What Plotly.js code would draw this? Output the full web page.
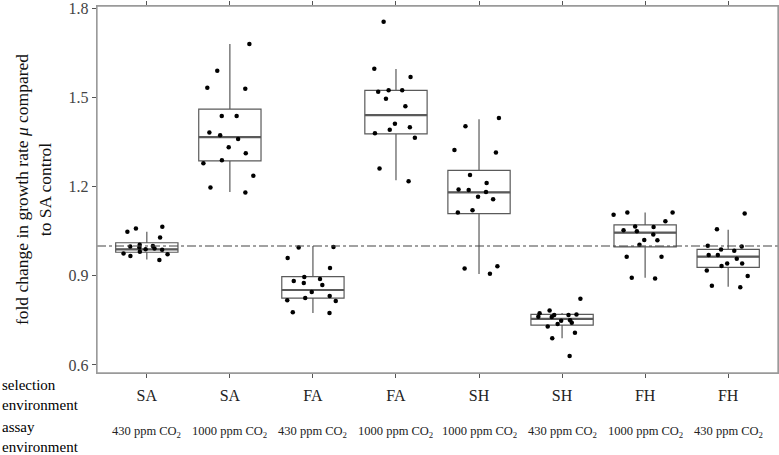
<!DOCTYPE html>
<html>
<head>
<meta charset="utf-8">
<script src="https://cdn.plot.ly/plotly-3.0.1.min.js"></script>
<style>html,body{margin:0;padding:0;background:#fff;}#chart{width:779px;height:455px;}</style>
</head>
<body>
<div id="chart"></div>
<script>
// ---- data ----
const selection = ['SA','SA','FA','FA','SH','SH','FH','FH'];
const assay = ['430','1000','430','1000','1000','430','1000','430'];

// precomputed box statistics
const q1     = [0.979, 1.286, 0.825, 1.377, 1.109, 0.734, 0.997, 0.928];
const median = [0.989, 1.366, 0.852, 1.440, 1.180, 0.755, 1.045, 0.964];
const q3     = [1.011, 1.460, 0.897, 1.523, 1.254, 0.770, 1.071, 0.989];
const lowerWhisker = [0.955, 1.182, 0.775, 1.221, 0.906, 0.690, 0.893, 0.863];
const upperWhisker = [1.048, 1.679, 1.000, 1.595, 1.426, 0.775, 1.113, 1.055];

// individual replicate points per group
const pts_SA_430 = [1.059, 1.048, 1.029, 1.065, 0.981, 0.975, 0.966, 0.953, 0.972, 1.004, 0.989, 0.992, 0.995, 0.987, 1.000, 0.998];
const pts_SA_1000 = [1.679, 1.589, 1.532, 1.529, 1.437, 1.437, 1.382, 1.372, 1.360, 1.332, 1.312, 1.288, 1.278, 1.236, 1.197, 1.180];
const pts_FA_430 = [0.896, 0.882, 0.869, 0.845, 0.815, 0.825, 0.832, 0.818, 0.889, 0.926, 0.997, 0.995, 0.960, 0.876, 0.775, 0.777];
const pts_FA_1000 = [1.754, 1.596, 1.568, 1.524, 1.524, 1.519, 1.495, 1.470, 1.411, 1.399, 1.391, 1.379, 1.364, 1.261, 1.218];
const pts_SH_1000 = [1.430, 1.403, 1.323, 1.314, 1.239, 1.212, 1.190, 1.188, 1.182, 1.157, 1.166, 1.113, 0.924, 0.907, 0.932, 1.120];
const pts_SH_430 = [0.823, 0.783, 0.774, 0.770, 0.762, 0.750, 0.761, 0.742, 0.738, 0.749, 0.768, 0.768, 0.729, 0.708, 0.690, 0.630];
const pts_FH_1000 = [1.113, 1.113, 1.105, 1.083, 1.064, 1.066, 1.050, 1.053, 1.039, 1.019, 1.020, 1.004, 0.964, 0.964, 0.891, 0.893];
const pts_FH_430 = [1.109, 1.056, 1.001, 0.998, 0.988, 0.984, 0.970, 0.970, 0.957, 0.941, 0.941, 0.933, 0.918, 0.899, 0.866, 0.861];
const points = [pts_SA_430, pts_SA_1000, pts_FA_430, pts_FA_1000, pts_SH_1000, pts_SH_430, pts_FH_1000, pts_FH_430];

const controlLevel = 1.0;
const yTicks = [0.6, 0.9, 1.2, 1.5, 1.8];

// ---- build chart ----
const cats = selection.map((s, i) => s + ' ' + assay[i]);
const serif = '"Liberation Serif", "Times New Roman", serif';
const boxCol = '#5a5a5a';
const traces = [];

// boxes with quartiles and whiskers
traces.push({
  type: 'box', x: cats, q1: q1, median: median, q3: q3,
  lowerfence: lowerWhisker, upperfence: upperWhisker,
  boxpoints: false, width: 0.75, whiskerwidth: 0,
  fillcolor: '#ffffff', line: {color: boxCol, width: 1.2},
  hoverinfo: 'skip', showlegend: false
});
// thicker median bar
traces.push({
  type: 'box', x: cats, q1: median, median: median, q3: median,
  lowerfence: median, upperfence: median,
  boxpoints: false, width: 0.75, whiskerwidth: 0,
  fillcolor: 'rgba(0,0,0,0)', line: {color: boxCol, width: 2.2},
  hoverinfo: 'skip', showlegend: false
});
// jittered points
points.forEach((vals, i) => {
  traces.push({
    type: 'box', x: vals.map(() => cats[i]), y: vals,
    boxpoints: 'all', jitter: 1, pointpos: 0, width: 0.78,
    marker: {color: '#000000', size: 4.5},
    line: {width: 0, color: 'rgba(0,0,0,0)'}, fillcolor: 'rgba(0,0,0,0)',
    hoveron: 'points', showlegend: false
  });
});

const plotL = 97, plotR = 778, plotW = plotR - plotL;
const annotations = cats.map((c, i) => ({
  x: c, xref: 'x', y: -0.16, yref: 'paper', yanchor: 'middle', showarrow: false,
  text: assay[i] + ' ppm CO<sub>2</sub>', font: {family: serif, size: 12.5, color: '#222'}
}));
annotations.push({
  x: -plotL / plotW, xref: 'paper', xanchor: 'left', y: -0.06, yref: 'paper', yanchor: 'middle',
  showarrow: false, align: 'left', text: 'selection<br>environment',
  font: {family: serif, size: 15, color: '#000'}
});
annotations.push({
  x: -plotL / plotW, xref: 'paper', xanchor: 'left', y: -0.174, yref: 'paper', yanchor: 'middle',
  showarrow: false, align: 'left', text: 'assay<br>environment',
  font: {family: serif, size: 15, color: '#000'}
});

const layout = {
  width: 779, height: 455,
  margin: {l: plotL, r: 779 - plotR, t: 6, b: 82},
  paper_bgcolor: '#fff', plot_bgcolor: '#fff',
  boxmode: 'overlay', showlegend: false,
  font: {family: serif},
  xaxis: {
    type: 'category', categoryorder: 'array', categoryarray: cats,
    tickvals: cats, ticktext: selection, range: [-0.6, 7.6],
    showgrid: false, zeroline: false,
    showline: true, mirror: 'all', linecolor: '#9a9a9a', linewidth: 1.3,
    ticks: 'outside', ticklen: 4, tickcolor: '#555', tickwidth: 1,
    ticklabelstandoff: 3,
    tickfont: {family: serif, size: 16, color: '#222'}
  },
  yaxis: {
    range: [0.573, 1.807], tickvals: yTicks, ticktext: yTicks.map(v => v.toFixed(1)),
    showgrid: false, zeroline: false,
    showline: true, mirror: true, linecolor: '#9a9a9a', linewidth: 1.3,
    ticks: 'outside', ticklen: 4, tickcolor: '#555', tickwidth: 1,
    ticklabeloverflow: 'allow',
    tickfont: {family: serif, size: 16, color: '#444'},
    title: {text: 'fold change in growth rate <i>μ</i> compared<br>to SA control',
            font: {family: serif, size: 17.5, color: '#111'}, standoff: 12}
  },
  shapes: [{
    type: 'line', xref: 'paper', x0: 0, x1: 1, yref: 'y', y0: controlLevel, y1: controlLevel,
    line: {color: '#444', width: 1.2, dash: 'dashdot'}
  }, {
    type: 'rect', xref: 'paper', x0: 0, x1: 1, yref: 'paper', y0: 0, y1: 1,
    line: {color: '#9a9a9a', width: 1.3}, fillcolor: 'rgba(0,0,0,0)'
  }],
  annotations: annotations
};

Plotly.newPlot('chart', traces, layout, {displayModeBar: false, staticPlot: true});
</script>
</body>
</html>
